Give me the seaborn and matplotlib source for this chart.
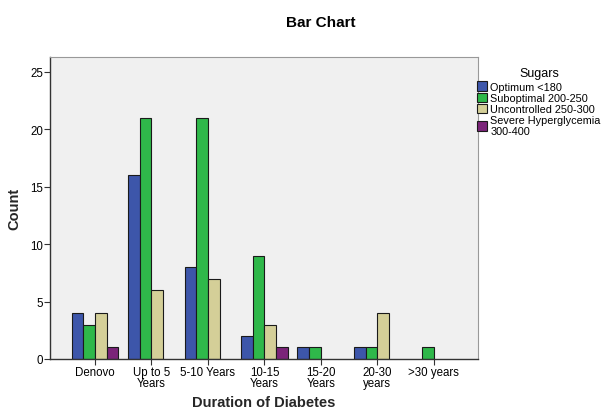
import pandas as pd
import seaborn as sns
import matplotlib.pyplot as plt

# Données
durations = ['Denovo', 'Up to 5\nYears', '5-10 Years', '10-15\nYears', '15-20\nYears', '20-30\nyears', '>30 years']
sugars = ['Optimum <180', 'Suboptimal 200-250', 'Uncontrolled 250-300', 'Severe Hyperglycemia\n300-400']
optimum = [4, 16, 8, 2, 1, 1, 0]
suboptimal = [3, 21, 21, 9, 1, 1, 1]
uncontrolled = [4, 6, 7, 3, 0, 4, 0]
severe = [1, 0, 0, 1, 0, 0, 0]
colors = ['#3D56AA', '#2FB84A', '#D4CF98', '#7B2479']

rows = []
for s, vals in zip(sugars, [optimum, suboptimal, uncontrolled, severe]):
    for d, v in zip(durations, vals):
        rows.append({'Duration': d, 'Sugars': s, 'Count': v})
df = pd.DataFrame(rows)

sns.set_style('white')
plt.rcParams['font.family'] = ['Liberation Sans', 'DejaVu Sans']
plt.rcParams['text.color'] = 'black'
plt.rcParams['xtick.color'] = 'black'
plt.rcParams['ytick.color'] = 'black'

fig = plt.figure(figsize=(6.08, 4.10), dpi=100)
ax = fig.add_axes([0.082, 0.122, 0.704, 0.737])
ax.set_facecolor('#F0F0F0')

sns.barplot(data=df, x='Duration', y='Count', hue='Sugars', order=durations, hue_order=sugars,
            palette=colors, saturation=1, width=0.83, edgecolor='#1a1a1a', linewidth=0.8, ax=ax,
            legend=False)

# SPSS ne dessine pas les barres nulles
for p in ax.patches:
    if p.get_height() == 0:
        p.set_visible(False)

ax.set_xlim(-0.8, 6.78)
ax.set_ylim(0, 26.3)
ax.set_yticks([0, 5, 10, 15, 20, 25])
ax.tick_params(axis='both', which='major', labelsize=8.3, direction='out', length=4, width=0.8,
               color='#333333', bottom=True, left=True, pad=1)
ax.set_xticklabels(durations, linespacing=0.9)

for side in ['left', 'bottom']:
    ax.spines[side].set_color('#333333')
    ax.spines[side].set_linewidth(1.0)
for side in ['top', 'right']:
    ax.spines[side].set_color('#999999')
    ax.spines[side].set_linewidth(0.8)

ax.set_xlabel('Duration of Diabetes', fontsize=10.5, fontweight='bold')
ax.xaxis.set_label_coords(0.5, -0.118)
ax.set_ylabel('Count', fontsize=10.5, fontweight='bold', labelpad=6)
fig.suptitle('Bar Chart', x=0.527, y=0.96, fontsize=11, fontweight='bold')

handles = [plt.Rectangle((0, 0), 1, 1, facecolor=c, edgecolor='#1a1a1a', linewidth=0.8) for c in colors]
leg = fig.legend(handles, sugars, title='Sugars', loc='upper left', bbox_to_anchor=(0.778, 0.84),
                 frameon=False, fontsize=7.8, title_fontsize=9, handlelength=0.9, handleheight=1.0,
                 handletextpad=0.3, labelspacing=0.05, borderaxespad=0)
leg.get_title().set_position((0, 2))

plt.savefig('out.png', dpi=100)
